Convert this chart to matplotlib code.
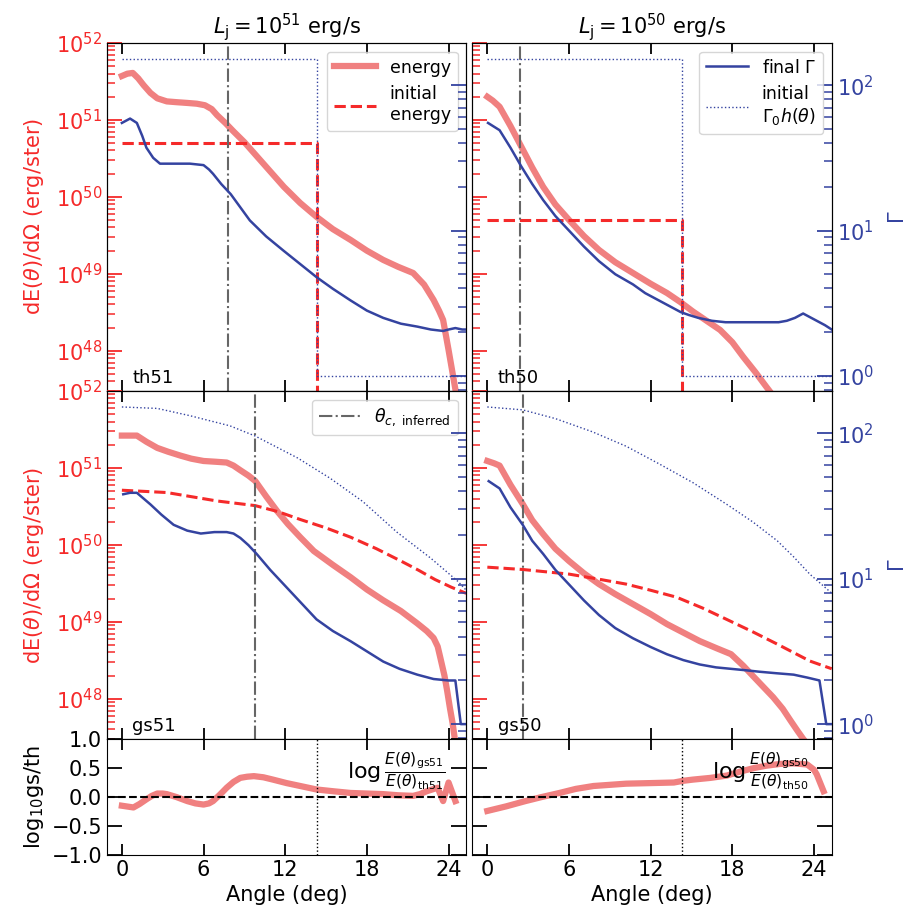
import matplotlib
matplotlib.use("Agg")
import matplotlib.pyplot as plt
import numpy as np
from matplotlib.ticker import FixedLocator, NullFormatter

plt.rcParams["font.size"] = 15

RED = "#f52a2a"
PINK = "#f08080"
BLUE = "#3443a0"
GRAY = "#666666"

# jet opening angle (deg) and top-hat initial values
theta_j = 14.3
e0_th51 = 5.0e50
e0_th50 = 5.0e49
gamma0 = 150.0
gamma_out = 1.0

# inferred core angles (deg)
theta_c = {"th51": 7.8, "th50": 2.4, "gs51": 9.8, "gs50": 2.6}

# final energy, log10 dE/dOmega
th51_e_theta = [0, 0.4, 0.8, 1.2, 1.6, 2.1, 2.6, 3.3, 4.0, 4.8, 5.5, 6.1, 6.6,
                7.0, 7.6, 8.2, 9.0, 9.7, 10.8, 11.9, 13.1, 14.3, 15.5, 16.8,
                18.0, 19.2, 20.3, 21.4, 22.2, 22.9, 23.3, 23.6, 24.0, 24.5,
                24.9]
th51_e_log = [51.57, 51.60, 51.61, 51.54, 51.45, 51.35, 51.28, 51.24, 51.23,
              51.22, 51.21, 51.19, 51.14, 51.06, 50.96, 50.85, 50.71, 50.57,
              50.35, 50.13, 49.92, 49.74, 49.58, 49.44, 49.30, 49.18, 49.09,
              49.01, 48.86, 48.66, 48.52, 48.40, 48.01, 47.50, 47.00]
th50_e_theta = [0, 0.4, 0.9, 1.7, 2.5, 3.3, 4.1, 5.0, 6.0, 7.1, 8.2, 9.4,
                10.7, 12.0, 13.2, 14.2, 15.1, 16.1, 17.1, 18.0, 18.8, 19.7,
                20.5, 21.5]
th50_e_log = [51.30, 51.25, 51.17, 50.92, 50.65, 50.38, 50.13, 49.90, 49.70,
              49.49, 49.31, 49.15, 49.01, 48.87, 48.75, 48.63, 48.51, 48.39,
              48.27, 48.11, 47.92, 47.72, 47.53, 47.30]
gs51_e_theta = [0, 1.1, 1.8, 2.6, 3.4, 4.3, 5.1, 6.0, 6.9, 7.7, 8.2, 8.7, 9.3,
                9.8, 10.6, 11.4, 12.2, 13.1, 14.1, 15.5, 16.8, 18.0, 19.2,
                20.5, 21.7, 22.4, 22.9, 23.2, 23.4, 23.7, 23.9, 24.1, 24.3,
                24.6]
gs51_e_log = [51.42, 51.42, 51.34, 51.26, 51.21, 51.16, 51.12, 51.09, 51.08,
              51.07, 51.03, 50.97, 50.90, 50.83, 50.63, 50.44, 50.27, 50.10,
              49.92, 49.74, 49.58, 49.42, 49.28, 49.14, 48.98, 48.88, 48.79,
              48.68, 48.53, 48.30, 48.10, 47.88, 47.68, 47.30]
gs50_e_theta = [0, 0.5, 0.9, 1.7, 2.6, 3.3, 4.1, 5.0, 6.0, 7.1, 8.2, 9.4,
                10.7, 12.0, 13.2, 14.4, 15.6, 16.8, 17.9, 18.8, 19.6, 20.3,
                21.0, 21.7, 22.3, 22.8, 23.2, 24.0]
gs50_e_log = [51.09, 51.06, 51.03, 50.78, 50.53, 50.32, 50.14, 49.95, 49.79,
              49.63, 49.49, 49.36, 49.23, 49.10, 48.97, 48.86, 48.75, 48.66,
              48.58, 48.43, 48.28, 48.15, 48.02, 47.87, 47.71, 47.58, 47.48,
              47.30]

# final Lorentz factor, log10 Gamma
th51_g_theta = [0, 0.6, 1.1, 1.5, 1.8, 2.3, 2.8, 3.4, 4.0, 5.0, 6.0, 6.4, 6.7,
                7.3, 8.0, 8.7, 9.4, 10.6, 11.9, 13.1, 14.3, 15.5, 16.8, 18.0,
                19.2, 20.5, 21.7, 22.7, 23.6, 24.0, 24.5, 25.0, 25.3]
th51_g_log = [1.74, 1.77, 1.74, 1.65, 1.57, 1.50, 1.46, 1.46, 1.46, 1.46,
              1.45, 1.42, 1.39, 1.32, 1.25, 1.16, 1.07, 0.96, 0.86, 0.77,
              0.68, 0.60, 0.52, 0.45, 0.40, 0.36, 0.34, 0.32, 0.31, 0.32,
              0.33, 0.32, 0.32]
th50_g_theta = [0.05, 0.9, 1.7, 2.5, 3.3, 4.1, 5.0, 6.0, 7.1, 8.2, 9.4, 10.7,
                11.6, 12.6, 13.4, 14.2, 14.8, 15.5, 16.5, 17.5, 18.7, 20.0,
                21.4, 22.0, 22.6, 23.2, 23.6, 24.2, 24.8, 25.3]
th50_g_log = [1.74, 1.69, 1.57, 1.44, 1.32, 1.21, 1.10, 1.00, 0.89, 0.79,
              0.70, 0.63, 0.57, 0.52, 0.48, 0.44, 0.42, 0.40, 0.38, 0.37,
              0.37, 0.37, 0.37, 0.38, 0.40, 0.43, 0.41, 0.38, 0.35, 0.32]
gs51_g_theta = [0.1, 0.6, 1.1, 1.6, 2.1, 2.9, 3.8, 4.8, 5.8, 6.8, 7.7, 8.2,
                8.7, 9.3, 9.9, 10.9, 11.9, 13.1, 14.3, 15.5, 16.8, 18.0, 19.2,
                20.4, 21.7, 22.9, 24.0, 24.5, 24.9, 25.3]
gs51_g_log = [1.58, 1.59, 1.59, 1.55, 1.51, 1.44, 1.37, 1.33, 1.31, 1.32,
              1.32, 1.31, 1.28, 1.23, 1.17, 1.06, 0.96, 0.84, 0.72, 0.64,
              0.57, 0.50, 0.43, 0.38, 0.34, 0.31, 0.30, 0.30, 0.0, 0.0]
gs50_g_theta = [0.1, 0.9, 1.7, 2.6, 3.3, 4.1, 5.0, 6.0, 7.1, 8.2, 9.4, 10.7,
                12.0, 13.2, 14.4, 15.6, 16.8, 17.9, 19.0, 20.0, 21.2, 22.5,
                23.5, 24.4, 24.9, 25.3]
gs50_g_log = [1.67, 1.62, 1.49, 1.37, 1.26, 1.17, 1.06, 0.96, 0.85, 0.75,
              0.66, 0.59, 0.53, 0.48, 0.44, 0.41, 0.39, 0.38, 0.37, 0.36,
              0.35, 0.34, 0.32, 0.30, 0.0, 0.0]

# initial gaussian-structured profiles
gs51_e0_theta = [0, 3.3, 7.0, 9.8, 11.5, 13.1, 15.0, 16.8, 18.7, 20.5, 21.8,
                 23.0, 24.2, 25.3]
gs51_e0_log = [50.71, 50.68, 50.57, 50.51, 50.43, 50.33, 50.22, 50.10, 49.95,
               49.79, 49.67, 49.55, 49.45, 49.37]
gs50_e0_theta = [0, 2.6, 6.0, 8.0, 10.2, 12.0, 13.9, 15.8, 17.6, 19.5, 21.3,
                 22.5, 23.7, 25.3]
gs50_e0_log = [49.71, 49.68, 49.62, 49.56, 49.49, 49.41, 49.32, 49.18, 49.03,
               48.87, 48.71, 48.60, 48.49, 48.39]
gs51_g0_theta = [0, 2.6, 5.0, 7.95, 9.8, 12.9, 15.3, 17.7, 20.2, 22.7, 24.7,
                 25.3]
gs51_g0_log = [2.18, 2.17, 2.12, 2.05, 1.98, 1.83, 1.69, 1.53, 1.32, 1.14,
               0.98, 0.92]
gs50_g0_theta = [0, 2.6, 5.0, 7.7, 10.2, 12.6, 15.1, 17.6, 19.5, 21.3, 22.5,
                 23.7, 25.3]
gs50_g0_log = [2.18, 2.16, 2.10, 2.01, 1.91, 1.79, 1.66, 1.51, 1.39, 1.26,
               1.15, 1.03, 0.90]

# log10 of gs/th energy ratio
ratio51_theta = [0, 0.85, 1.3, 1.8, 2.2, 2.6, 3.0, 3.3, 4.0, 4.8, 5.4, 6.0,
                 6.4, 6.7, 7.2, 7.7, 8.2, 8.7, 9.2, 9.7, 10.4, 11.1, 12.1,
                 13.1, 14.3, 15.5, 16.8, 18.0, 19.2, 20.3, 21.4, 21.9, 22.4,
                 22.8, 23.2, 23.6, 24.0, 24.5]
ratio51 = [-0.15, -0.18, -0.12, -0.04, 0.02, 0.06, 0.06, 0.05, 0.0, -0.07,
           -0.11, -0.13, -0.11, -0.07, 0.04, 0.16, 0.26, 0.33, 0.35, 0.36,
           0.34, 0.30, 0.24, 0.19, 0.13, 0.10, 0.07, 0.06, 0.05, 0.03, 0.02,
           0.05, 0.10, 0.13, 0.16, -0.07, 0.25, -0.07]
ratio50_theta = [0, 1.4, 2.8, 4.0, 5.3, 6.5, 7.8, 9.0, 10.2, 12.0, 13.7, 14.4,
                 15.1, 16.4, 17.6, 18.6, 19.6, 20.5, 21.5, 22.5, 23.5, 24.0,
                 24.2, 24.7]
ratio50 = [-0.24, -0.16, -0.07, 0.0, 0.07, 0.14, 0.19, 0.21, 0.23, 0.24, 0.25,
           0.28, 0.30, 0.33, 0.37, 0.44, 0.50, 0.54, 0.57, 0.58, 0.56, 0.47,
           0.39, 0.10]

XLIM = (-1.1, 25.3)
ELIM = (3e47, 1e52)
GLIM = (0.79, 195)


def log_ticks(axis, lo, hi):
    # decade and sub-decade tick positions
    axis.set_major_locator(FixedLocator([10.0 ** d for d in range(lo, hi + 1)]))
    axis.set_minor_locator(FixedLocator(
        [m * 10.0 ** d for d in range(lo - 1, hi + 1) for m in range(2, 10)]))
    axis.set_minor_formatter(NullFormatter())


def style_energy(ax, show_labels):
    ax.set_yscale("log")
    log_ticks(ax.yaxis, 47, 52)
    ax.set_ylim(*ELIM)
    ax.set_xlim(*XLIM)
    ax.set_xticks([0, 6, 12, 18, 24])
    ax.tick_params(axis="y", which="both", direction="in", colors=RED,
                   labelleft=show_labels, right=False)
    ax.tick_params(axis="y", which="major", length=10.5, width=1.3)
    ax.tick_params(axis="y", which="minor", length=5.5, width=1.1)
    ax.tick_params(axis="x", direction="in", top=True, length=8, width=1.3,
                   labelbottom=False)


def style_gamma(axg, show_labels):
    axg.set_yscale("log")
    log_ticks(axg.yaxis, 0, 2)
    axg.set_ylim(*GLIM)
    axg.tick_params(axis="y", which="both", direction="in", colors=BLUE,
                    labelright=show_labels)
    axg.tick_params(axis="y", which="major", length=10.5, width=1.3)
    axg.tick_params(axis="y", which="minor", length=5.5, width=1.1)
    if show_labels:
        axg.set_ylabel(r"$\Gamma$", color=BLUE, labelpad=10)


def draw_panel(ax, axg, tag, e_theta, e_log, g_theta, g_log,
               e0_theta, e0_vals, g0_theta, g0_vals):
    ax.plot(e_theta, 10 ** np.array(e_log), color=PINK, lw=4.5,
            label="energy", solid_joinstyle="round")
    ax.plot(e0_theta, e0_vals, color=RED, ls="--", lw=2.2,
            label="initial\nenergy")
    ax.axvline(theta_c[tag], color=GRAY, ls="-.", lw=1.5,
               label=r"$\theta_{c,\ \rm inferred}$")
    axg.plot(g_theta, 10 ** np.array(g_log), color=BLUE, lw=1.8,
             label=r"final $\Gamma$")
    axg.plot(g0_theta, g0_vals, color=BLUE, ls=":", lw=1.0,
             label="initial\n" + r"$\Gamma_0 h(\theta)$")
    ax.text(0.07, 0.022, tag, transform=ax.transAxes, fontsize=13)
    ax.set_ylim(*ELIM)
    axg.set_ylim(*GLIM)


fig = plt.figure(figsize=(9.06, 9.13), dpi=100)
gs = fig.add_gridspec(3, 2, height_ratios=[3, 3, 1], left=0.118, right=0.918,
                      top=0.953, bottom=0.0635, hspace=0, wspace=0.017)

th_e0_theta = [0, theta_j, theta_j]
th_g0_theta = [0, theta_j, theta_j, XLIM[1]]
th_g0 = [gamma0, gamma0, gamma_out, gamma_out]

axes = {}
for r, kind in enumerate(["th", "gs"]):
    for c, lum in enumerate(["51", "50"]):
        ax = fig.add_subplot(gs[r, c])
        axg = ax.twinx()
        style_energy(ax, c == 0)
        style_gamma(axg, c == 1)
        axg.set_xlim(*XLIM)
        axes[kind + lum] = (ax, axg)

draw_panel(*axes["th51"], "th51", th51_e_theta, th51_e_log, th51_g_theta,
           th51_g_log, th_e0_theta, [e0_th51, e0_th51, 1e40],
           th_g0_theta, th_g0)
draw_panel(*axes["th50"], "th50", th50_e_theta, th50_e_log, th50_g_theta,
           th50_g_log, th_e0_theta, [e0_th50, e0_th50, 1e40],
           th_g0_theta, th_g0)
draw_panel(*axes["gs51"], "gs51", gs51_e_theta, gs51_e_log, gs51_g_theta,
           gs51_g_log, gs51_e0_theta, 10 ** np.array(gs51_e0_log),
           gs51_g0_theta, 10 ** np.array(gs51_g0_log))
draw_panel(*axes["gs50"], "gs50", gs50_e_theta, gs50_e_log, gs50_g_theta,
           gs50_g_log, gs50_e0_theta, 10 ** np.array(gs50_e0_log),
           gs50_g0_theta, 10 ** np.array(gs50_g0_log))

ylabel = r"dE($\theta$)/d$\Omega$ (erg/ster)"
axes["th51"][0].set_ylabel(ylabel, color=RED)
axes["gs51"][0].set_ylabel(ylabel, color=RED)
axes["th51"][0].set_title(r"$L_{\rm j} = 10^{51}$ erg/s", fontsize=15)
axes["th50"][0].set_title(r"$L_{\rm j} = 10^{50}$ erg/s", fontsize=15)

# legends
ax, axg = axes["th51"]
h, l = ax.get_legend_handles_labels()
ax.legend(h[:2], l[:2], loc="upper right", fontsize=12.5, handlelength=2.4)
ax, axg = axes["th50"]
axg.legend(loc="upper right", fontsize=12.5, handlelength=2.4)
ax, axg = axes["gs51"]
h, l = ax.get_legend_handles_labels()
ax.legend([h[2]], [l[2]], loc="upper right", fontsize=12.5, handlelength=2.4)

# ratio panels
ratios = [("51", ratio51_theta, ratio51), ("50", ratio50_theta, ratio50)]
for c, (lum, th, rv) in enumerate(ratios):
    axr = fig.add_subplot(gs[2, c])
    axr.plot(th, rv, color=PINK, lw=4.5, solid_joinstyle="round")
    axr.axhline(0, color="k", ls="--", lw=1.5)
    axr.axvline(theta_j, color="k", ls=":", lw=1.0)
    axr.set_xlim(*XLIM)
    axr.set_ylim(-1, 1)
    axr.set_xticks([0, 6, 12, 18, 24])
    axr.set_yticks([-1.0, -0.5, 0.0, 0.5, 1.0])
    axr.set_yticklabels(["\u22121.0", "\u22120.5", "0.0", "0.5", "1.0"])
    axr.tick_params(direction="in", top=True, right=True, length=8,
                    width=1.3, labelleft=(c == 0))
    axr.tick_params(axis="y", length=10.5)
    axr.set_xlabel("Angle (deg)")
    axr.text(0.94, 0.72,
             r"$\log\frac{E(\theta)_{\rm gs%s}}{E(\theta)_{\rm th%s}}$" % (lum, lum),
             transform=axr.transAxes, ha="right", va="center", fontsize=16)
    if c == 0:
        axr.set_ylabel(r"log$_{10}$gs/th")

fig.align_ylabels()
fig.savefig("out.png", dpi=100)
